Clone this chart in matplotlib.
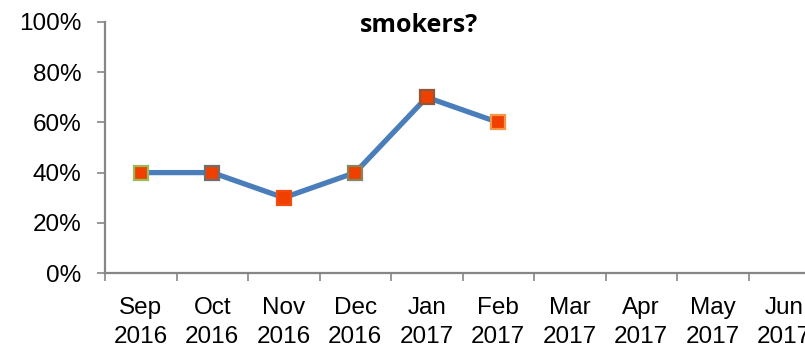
import numpy as np
import matplotlib.pyplot as plt
from matplotlib.ticker import PercentFormatter

months = ['Sep\n2016', 'Oct\n2016', 'Nov\n2016', 'Dec\n2016', 'Jan\n2017',
          'Feb\n2017', 'Mar\n2017', 'Apr\n2017', 'May\n2017', 'Jun\n2017']
share = [0.40, 0.40, 0.30, 0.40, 0.70, 0.60, np.nan, np.nan, np.nan, np.nan]
edge_colors = ['#9BBB59', '#6E6E6E', '#F24A10', '#85855F', '#8C5A3A', '#F79646']

line_color = '#4A7EBB'
fill_color = '#F04000'
axis_color = '#868686'

fig = plt.figure(figsize=(8.05, 3.47), dpi=100)
ax = fig.add_axes([105/805, 1 - 273/347, 715/805, 251/347])

x = np.arange(len(months))
ax.plot(x, share, color=line_color, lw=3.8, zorder=2)
for xi, yi, ec in zip(x, share, edge_colors):
    ax.plot(xi, yi, 's', ms=10, mfc=fill_color, mec=ec, mew=1.6, zorder=3)

ax.set_xlim(-0.5, len(months) - 0.5)
ax.set_ylim(0, 1)
ax.set_yticks(np.arange(0, 1.01, 0.2))
ax.yaxis.set_major_formatter(PercentFormatter(1.0, decimals=0))

# category labels centred, tick marks between categories
ax.set_xticks(x)
ax.set_xticklabels(months, fontsize=17.5, family='Liberation Sans', linespacing=1.45)
ax.set_xticks(np.arange(-0.5, len(months), 1), minor=True)
ax.tick_params(axis='x', which='major', length=0, pad=17)
ax.tick_params(axis='x', which='minor', length=6, width=1.2, color=axis_color, direction='out')
ax.tick_params(axis='y', length=6, width=1.2, color=axis_color, pad=11, labelsize=17.5)
for lab in ax.get_yticklabels():
    lab.set_family('Liberation Sans')

for s in ['top', 'right']:
    ax.spines[s].set_visible(False)
for s in ['left', 'bottom']:
    ax.spines[s].set_color(axis_color)
    ax.spines[s].set_linewidth(1.6)

fig.text(419/805, 1 - 25/347, 'smokers?', ha='center', va='center',
         fontsize=18, fontweight='bold', family='Open Sans')

fig.savefig('out.png', dpi=100)
